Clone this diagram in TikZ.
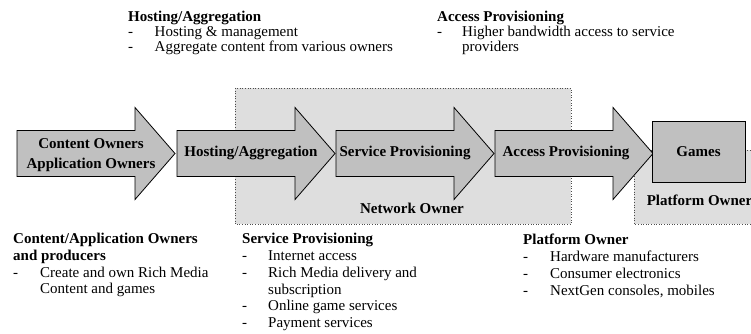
\documentclass[tikz,border=0pt]{standalone}
\usepackage{fontspec}
\setmainfont{Liberation Serif}
\definecolor{arrowgray}{HTML}{C0C0C0}
\definecolor{regiongray}{HTML}{DEDEDE}
\tikzset{
  arrowshape/.style={fill=arrowgray, draw=black, line width=0.8pt, line join=miter},
  region/.style={fill=regiongray, draw=black!70, line width=0.6pt, dotted},
  lbl/.style={inner sep=0pt, anchor=base, font=\fontsize{15}{16}\selectfont\bfseries},
  head/.style={inner sep=0pt, anchor=base west, font=\fontsize{15}{16}\selectfont\bfseries},
  txt/.style={inner sep=0pt, anchor=base west, font=\fontsize{15}{16}\selectfont},
}
\begin{document}
\begin{tikzpicture}[x=1pt, y=-1pt]
\useasboundingbox (0,0) rectangle (751,334);
% regions
\path[region] (235,88) rectangle (571,224);
\path[region] (634,150) rectangle (760,224);
% arrows
\foreach \xo/\nm in {17/a1, 177/a2, 336/a3, 495/a4}{
  \path[arrowshape] (\xo,130.5) -- ++(118,0) -- ++(0,-23) -- ++(40,46) -- ++(-40,46) -- ++(0,-23) -- ++(-118,0) -- cycle;
}
\path[arrowshape] (652,121) rectangle (745,182);
% labels in shapes
\node[lbl] (l1a) at (91,148) {Content Owners};
\node[lbl] (l1b) at (91,168.5) {Application Owners};
\node[lbl] (l2) at (251,156) {Hosting/Aggregation};
\node[lbl] (l3) at (405,156) {Service Provisioning};
\node[lbl] (l4) at (566,156) {Access Provisioning};
\node[lbl] (l5) at (698.5,156) {Games};
\node[lbl] (nw) at (412,213) {Network Owner};
\node[lbl] (pw) at (699.5,205) {Platform Owner};
% top left text
\node[head] (th1) at (128,21.7) {Hosting/Aggregation};
\node[txt] (td1) at (128,37) {-};
\node[txt] (tt1) at (154.5,37) {Hosting \& management};
\node[txt] (td2) at (128,51.5) {-};
\node[txt] (tt2) at (154.5,51.5) {Aggregate content from various owners};
% top right text
\node[head] (th2) at (437,21.7) {Access Provisioning};
\node[txt] (td3) at (437,37) {-};
\node[txt] (tt3) at (462,37) {Higher bandwidth access to service};
\node[txt] (tt4) at (462,51.5) {providers};
% bottom left
\node[head] (bh1) at (13,243) {Content/Application Owners};
\node[head] (bh1b) at (13,260) {and producers};
\node[txt] (bd1) at (13,277) {-};
\node[txt] (bt1) at (40,277) {Create and own Rich Media};
\node[txt] (bt1b) at (40,293.5) {Content and games};
% bottom middle
\node[head] (bh2) at (242,243) {Service Provisioning};
\node[txt] (bd2) at (242,260.5) {-};
\node[txt] (bt2) at (268,260.5) {Internet access};
\node[txt] (bd3) at (242,277.5) {-};
\node[txt] (bt3) at (268,277.5) {Rich Media delivery and};
\node[txt] (bt3b) at (268,294) {subscription};
\node[txt] (bd4) at (242,310.5) {-};
\node[txt] (bt4) at (268,310.5) {Online game services};
\node[txt] (bd5) at (242,327) {-};
\node[txt] (bt5) at (268,327) {Payment services};
% bottom right
\node[head] (bh3) at (523,244) {Platform Owner};
\node[txt] (bd6) at (523,261.5) {-};
\node[txt] (bt6) at (550,261.5) {Hardware manufacturers};
\node[txt] (bd7) at (523,278.5) {-};
\node[txt] (bt7) at (550,278.5) {Consumer electronics};
\node[txt] (bd8) at (523,295.5) {-};
\node[txt] (bt8) at (550,295.5) {NextGen consoles, mobiles};
\end{tikzpicture}
\end{document}
